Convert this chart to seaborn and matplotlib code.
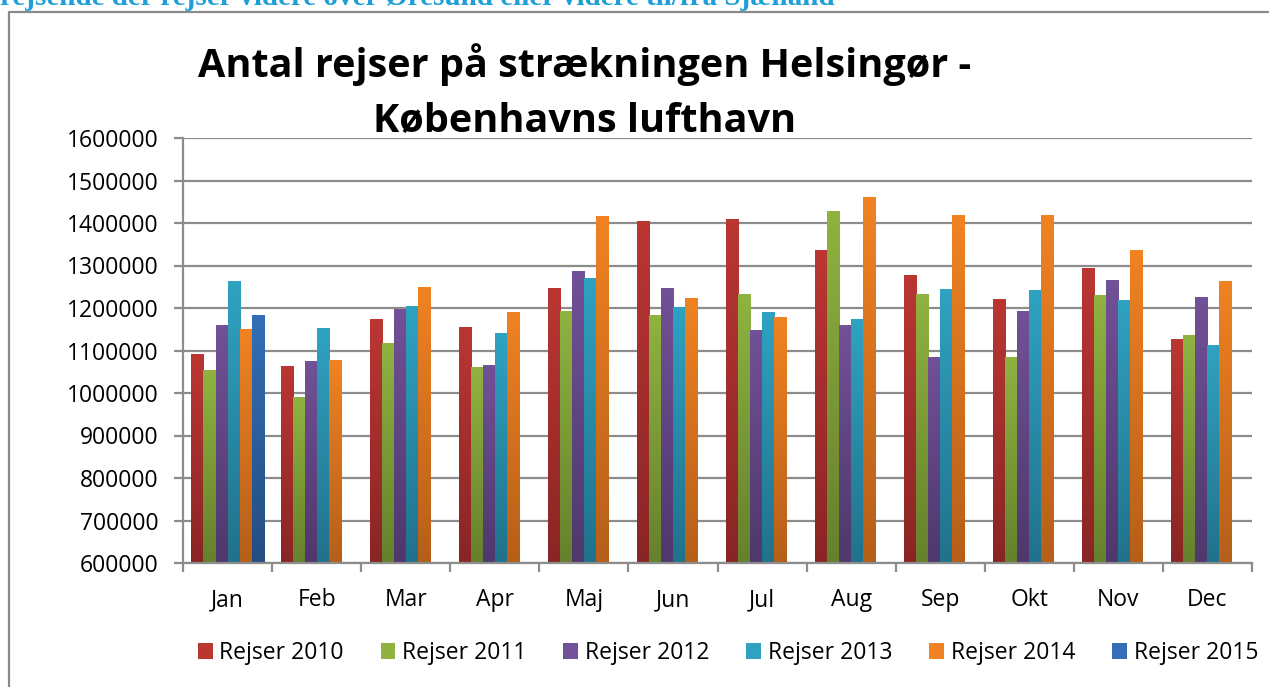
import numpy as np
import pandas as pd
import matplotlib
matplotlib.use("Agg")
import matplotlib.pyplot as plt
from matplotlib.patches import Patch
from matplotlib.lines import Line2D
import seaborn as sns

# ── Data ──────────────────────────────────────────────────
months = ["Jan", "Feb", "Mar", "Apr", "Maj", "Jun",
          "Jul", "Aug", "Sep", "Okt", "Nov", "Dec"]
series = ["Rejser 2010", "Rejser 2011", "Rejser 2012",
          "Rejser 2013", "Rejser 2014", "Rejser 2015"]

rejser_2010 = [1090000, 1062000, 1173000, 1154000, 1245000, 1403000,
               1408000, 1335000, 1276000, 1220000, 1293000, 1125000]
rejser_2011 = [1052000, 989000, 1116000, 1060000, 1191000, 1182000,
               1231000, 1427000, 1231000, 1083000, 1229000, 1135000]
rejser_2012 = [1158000, 1074000, 1196000, 1064000, 1285000, 1245000,
               1147000, 1158000, 1083000, 1191000, 1264000, 1224000]
rejser_2013 = [1262000, 1151000, 1203000, 1140000, 1269000, 1201000,
               1189000, 1173000, 1243000, 1241000, 1217000, 1111000]
rejser_2014 = [1149000, 1076000, 1248000, 1189000, 1415000, 1222000,
               1177000, 1460000, 1417000, 1417000, 1335000, 1262000]
rejser_2015 = [1182000, None, None, None, None, None,
               None, None, None, None, None, None]

y_ticks = list(range(600000, 1700000, 100000))

# (top, bottom) gradient colours per series
GRAD = {
    "Rejser 2010": ("#BA3633", "#8A2525"),
    "Rejser 2011": ("#8FB240", "#66812C"),
    "Rejser 2012": ("#715197", "#4F386C"),
    "Rejser 2013": ("#2FA2C1", "#21728C"),
    "Rejser 2014": ("#F08222", "#B65F19"),
    "Rejser 2015": ("#336EB6", "#244E82"),
}

rows = []
for name, vals in zip(series, [rejser_2010, rejser_2011, rejser_2012,
                               rejser_2013, rejser_2014, rejser_2015]):
    for m, v in zip(months, vals):
        if v is not None:
            rows.append({"month": m, "serie": name, "rejser": v})
df = pd.DataFrame(rows)

# ── Figure ────────────────────────────────────────────────
sns.set_theme(style="white")
plt.rcParams["font.family"] = ["Open Sans", "DejaVu Sans"]
plt.rcParams["text.color"] = "black"

W, H = 1269, 687
fig = plt.figure(figsize=(W / 100, H / 100), dpi=100)
ax = fig.add_axes([183 / W, 1 - 563 / H, (1252 - 183) / W, (563 - 138) / H])

sns.barplot(data=df, x="month", y="rejser", hue="serie",
            order=months, hue_order=series,
            palette={k: v[0] for k, v in GRAD.items()},
            width=0.81, gap=0, saturation=1, legend=False, ax=ax,
            zorder=3)

YMIN, YMAX = 600000, 1600000

# gradient fill on each bar
for cont, name in zip(ax.containers, series):
    top, bot = GRAD[name]
    cmap = matplotlib.colors.LinearSegmentedColormap.from_list(name, [bot, top])
    for bar in cont:
        x0 = bar.get_x()
        w = bar.get_width()
        h = bar.get_height()
        if not np.isfinite(h):
            continue
        grad = np.linspace(1, 0, 64).reshape(-1, 1)
        ax.imshow(grad, cmap=cmap, aspect="auto", origin="upper",
                  extent=(x0, x0 + w, YMIN, h), zorder=3,
                  interpolation="bilinear")
        bar.set_visible(False)

ax.set_xlim(-0.5, len(months) - 0.5)
ax.set_ylim(YMIN, YMAX)
ax.set_yticks(y_ticks)
ax.set_yticklabels([str(t) for t in y_ticks])
ax.set_xlabel("")
ax.set_ylabel("")

ax.yaxis.grid(True, color="#8c8c8c", lw=1.6, zorder=2)
ax.set_axisbelow(True)

for s in ["top", "right"]:
    ax.spines[s].set_visible(False)
ax.spines["left"].set_color("#8c8c8c")
ax.spines["left"].set_linewidth(1.6)
ax.spines["bottom"].set_color("#8c8c8c")
ax.spines["bottom"].set_linewidth(1.6)
ax.spines["left"].set_zorder(4)
ax.spines["bottom"].set_zorder(4)

ax.tick_params(axis="y", which="major", length=6.5, width=1.6,
               color="#8c8c8c", labelsize=16.5, pad=11, left=True)
ax.set_xticks(np.arange(len(months)))
ax.set_xticklabels(months)
ax.set_xticks(np.arange(-0.5, len(months), 1.0), minor=True)
ax.tick_params(axis="x", which="major", length=0, labelsize=16.5, pad=18,
               bottom=True)
ax.tick_params(axis="x", which="minor", length=6.5, width=1.6,
               color="#8c8c8c", bottom=True)
for lab in ax.get_xticklabels() + ax.get_yticklabels():
    lab.set_color("black")

# title
fig.text(585 / W, 1 - 65 / H, "Antal rejser på strækningen Helsingør -",
         ha="center", va="center", fontsize=28.5, fontweight="bold",
         color="black")
fig.text(585 / W, 1 - 121 / H, "Københavns lufthavn",
         ha="center", va="center", fontsize=28.5, fontweight="bold",
         color="black")

# legend
handles = [Patch(facecolor=GRAD[s][0], edgecolor="none", label=s) for s in series]
fig.legend(handles=handles, loc="center", ncol=6,
           bbox_to_anchor=(728 / W, 1 - 653 / H), frameon=False,
           fontsize=16.5, handlelength=0.65, handleheight=0.65,
           handletextpad=0.3, columnspacing=1.6, labelcolor="black")

# chart frame (partly outside the page)
fig.add_artist(Line2D([8.5 / W, 1.0], [1 - 12 / H, 1 - 12 / H],
                      color="#8a8a8a", lw=1.6, transform=fig.transFigure))
fig.add_artist(Line2D([8.5 / W, 8.5 / W], [0, 1 - 12 / H],
                      color="#8a8a8a", lw=1.6, transform=fig.transFigure))

# clipped heading from the surrounding document
fig.text(0 / W, 1 - 5 / H,
         "rejsende der rejser videre over Øresund eller videre til/fra Sjælland",
         ha="left", va="baseline", fontsize=21, fontweight="bold",
         color="#1E9FD8", family=["Liberation Serif", "DejaVu Serif"])

fig.savefig("out.png", dpi=100)
